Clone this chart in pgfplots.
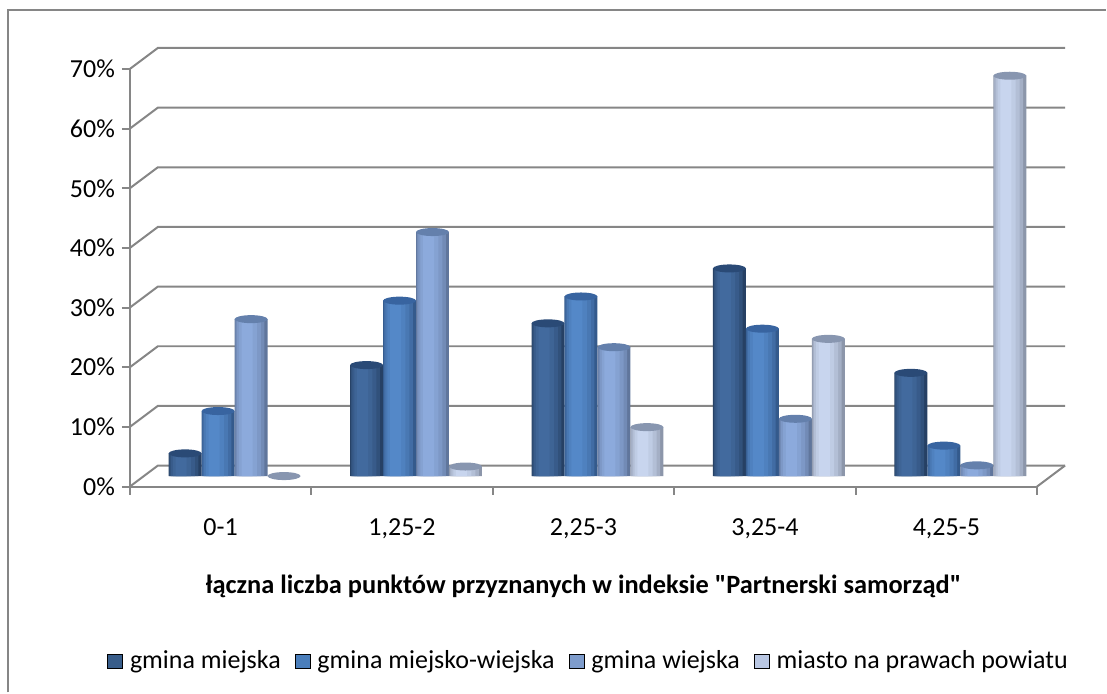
\documentclass[border=0pt]{standalone}
\usepackage{fontspec}
\setmainfont{Carlito}[Ligatures=TeXOff]
\usepackage{pgfplots}
\pgfplotsset{compat=1.18}
\definecolor{gridc}{RGB}{134,134,134}
\definecolor{s1}{RGB}{56,93,138}
\definecolor{s1l}{RGB}{38,64,100}
\definecolor{s1m}{RGB}{66,106,158}
\definecolor{s1t}{RGB}{42,74,118}
\definecolor{s2}{RGB}{74,126,187}
\definecolor{s2l}{RGB}{52,90,140}
\definecolor{s2m}{RGB}{84,136,200}
\definecolor{s2t}{RGB}{56,100,160}
\definecolor{s3}{RGB}{126,156,204}
\definecolor{s3l}{RGB}{96,118,156}
\definecolor{s3m}{RGB}{140,170,220}
\definecolor{s3t}{RGB}{100,128,172}
\definecolor{s4}{RGB}{185,199,227}
\definecolor{s4l}{RGB}{140,150,170}
\definecolor{s4m}{RGB}{200,213,238}
\definecolor{s4t}{RGB}{136,150,176}
\pgfdeclareplotmark{cyltop}{%
  \pgfpathellipse{\pgfpointorigin}{\pgfqpoint{8.25pt}{0pt}}{\pgfqpoint{0pt}{2pt}}%
  \pgfusepathqfill}
\pgfplotstableread{
x s1 s2 s3 s4
0 3.8 10.9 26.3 0
1 18.6 29.4 40.9 1.6
2 25.6 30.1 21.6 8.2
3 34.8 24.7 9.6 23.0
4 17.3 5.1 1.8 67.1
}\datatab
% one series of cylinders: #1 colour prefix / column name, #2 horizontal offset (pt)
\newcommand\cylseries[2]{%
  \addplot[draw=none, fill=#1l, bar width=16.5pt, bar shift=0pt, xshift=#2pt, yshift=5.25pt, forget plot] table[x=x,y=#1]{\datatab};
  \addplot[draw=none, fill=#1m!40!#1l, bar width=14.5pt, bar shift=0pt, xshift={(#2-0.6)*1pt}, yshift=5.25pt, forget plot] table[x=x,y=#1]{\datatab};
  \addplot[draw=none, fill=#1m!65!#1l, bar width=12pt, bar shift=0pt, xshift={(#2-1.1)*1pt}, yshift=5.25pt, forget plot] table[x=x,y=#1]{\datatab};
  \addplot[draw=none, fill=#1m!85!#1l, bar width=9pt, bar shift=0pt, xshift={(#2-1.6)*1pt}, yshift=5.25pt, forget plot] table[x=x,y=#1]{\datatab};
  \addplot[draw=none, fill=#1m, bar width=5.5pt, bar shift=0pt, xshift={(#2-2)*1pt}, yshift=5.25pt, forget plot] table[x=x,y=#1]{\datatab};
  \addplot[draw=none, fill=none, bar width=0.1pt, bar shift=0pt, xshift=#2pt, yshift=5.25pt, mark=cyltop, mark options={fill=#1t, draw=none}, forget plot] table[x=x,y=#1]{\datatab};
}
\begin{document}
\begin{tikzpicture}
\draw[gridc, line width=1pt] (4pt,0pt) -- (4pt,341.5pt) -- (553.5pt,341.5pt);
\path[use as bounding box] (0pt,0pt) rectangle (553.5pt,346.5pt);
\begin{axis}[
  at={(65pt,103pt)}, anchor=south west,
  scale only axis, width=454pt, height=209pt,
  xmin=-0.5, xmax=4.5, ymin=0, ymax=70,
  clip=false,
  axis x line*=bottom, axis y line*=left,
  axis line style={gridc, line width=1pt},
  tick style={gridc, line width=1pt},
  major tick length=4pt,
  tick align=outside,
  ytick={0,10,...,70},
  yticklabel={\pgfmathprintnumber{\tick}\%},
  /pgf/number format/assume math mode=true,
  ticklabel style={font=\fontsize{13}{15}\selectfont, text=black},
  yticklabel style={xshift=0pt},
  xtick={-0.5,0.5,...,4.5},
  xticklabels={},
  extra x ticks={0,1,2,3,4},
  extra x tick labels={0-1,{1,25-2},{2,25-3},{3,25-4},{4,25-5}},
  extra x tick style={major tick length=0pt, xticklabel style={yshift=-12.5pt}},
  xlabel={\textbf{łączna liczba punktów przyznanych w indeksie "Partnerski samorząd"}},
  every axis x label/.style={at={(axis description cs:0.5,0)}, anchor=center, yshift=-50pt, font=\fontsize{13.2}{15}\selectfont},
  ybar, bar width=16.5pt,
  legend columns=4,
  legend style={at={(axis description cs:0.5,0)}, anchor=center, yshift=-87.5pt, xshift=3pt,
    draw=none, fill=none, font=\fontsize{13}{15}\selectfont,
    /tikz/every even column/.append style={column sep=5pt},
    /tikz/every odd column/.append style={column sep=1.5pt},
    inner xsep=0pt},
  legend image code/.code={\fill[#1] (0pt,-3.5pt) rectangle (7.5pt,3.5pt);},
]
% back wall grid and floor
\pgfplotsinvokeforeach{0,10,...,70}{%
  \draw[gridc, line width=1pt] (axis cs:-0.5,#1) -- ([xshift=14pt,yshift=10.5pt]axis cs:-0.5,#1) -- ([xshift=14pt,yshift=10.5pt]axis cs:4.5,#1);
}
\draw[gridc, line width=1pt] (axis cs:4.5,0) -- ([xshift=14pt,yshift=10.5pt]axis cs:4.5,0);
\cylseries{s1}{-17.75}
\cylseries{s2}{-1.25}
\cylseries{s3}{15.25}
\cylseries{s4}{31.75}
\addlegendimage{fill=s1}\addlegendentry{gmina miejska}
\addlegendimage{fill=s2}\addlegendentry{gmina miejsko-wiejska}
\addlegendimage{fill=s3}\addlegendentry{gmina wiejska}
\addlegendimage{fill=s4}\addlegendentry{miasto na prawach powiatu}
\end{axis}
\end{tikzpicture}
\end{document}
